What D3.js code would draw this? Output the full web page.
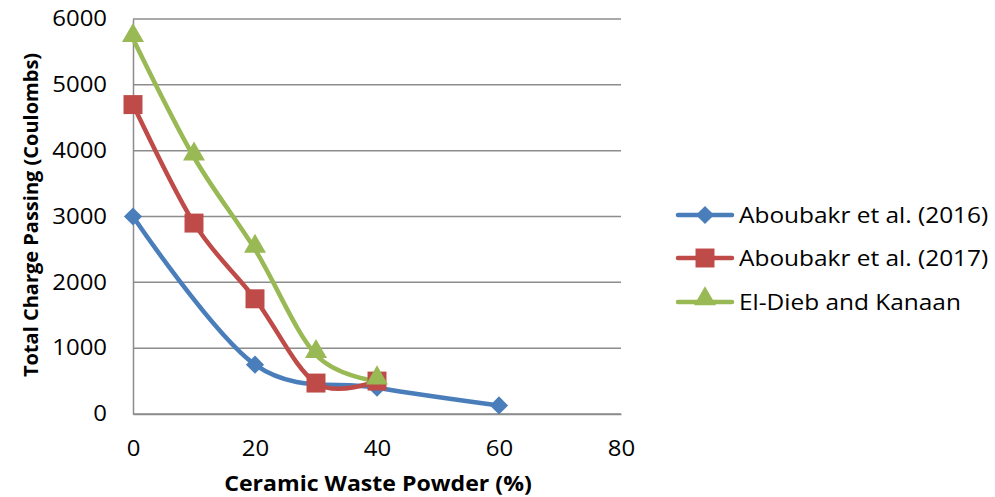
<!DOCTYPE html>
<html>
<head>
<meta charset="utf-8">
<script src="https://cdn.jsdelivr.net/npm/d3@7"></script>
<style>
  html, body { margin: 0; padding: 0; background: #fff; }
  svg { display: block; }
  text { font-family: "Open Sans", "DejaVu Sans", sans-serif; fill: #000; }
</style>
</head>
<body>
<svg id="chart" width="995" height="497"></svg>
<script>
// Chloride penetration data vs. ceramic waste powder replacement
const seriesNames = ["Aboubakr et al. (2016)", "Aboubakr et al. (2017)", "El-Dieb and Kanaan"];
const x2016 = [0, 20, 40, 60];
const y2016 = [3000, 750, 400, 130];
const x2017 = [0, 10, 20, 30, 40];
const y2017 = [4700, 2900, 1750, 470, 500];
const xDieb = [0, 10, 20, 30, 40];
const yDieb = [5700, 3900, 2500, 900, 500];
const xTicks = [0, 20, 40, 60, 80];
const yTicks = [0, 1000, 2000, 3000, 4000, 5000, 6000];
const colors = ["#4A7EBB", "#BE4B48", "#98B954"];
const markers = [d3.symbolDiamond2, d3.symbolSquare, d3.symbolTriangle];

const series = [
  { name: seriesNames[0], xs: x2016, ys: y2016 },
  { name: seriesNames[1], xs: x2017, ys: y2017 },
  { name: seriesNames[2], xs: xDieb, ys: yDieb }
].map((s, i) => ({
  ...s, color: colors[i], marker: markers[i],
  pts: s.xs.map((x, j) => [x, s.ys[j]])
}));

const svg = d3.select("#chart");
const plotLeft = 133, plotRight = 621, plotTop = 19, plotBottom = 414;

const x = d3.scaleLinear().domain([0, 80]).range([plotLeft, plotRight]);
const y = d3.scaleLinear().domain([0, 6000]).range([plotBottom, plotTop]);

// widen horizontal labels slightly (wide-set face)
function widen(sel, k) {
  sel.each(function () {
    const len = this.getComputedTextLength();
    d3.select(this).attr("textLength", len * k).attr("lengthAdjust", "spacingAndGlyphs");
  });
}

// horizontal gridlines
svg.append("g").selectAll("line").data(yTicks).join("line")
  .attr("x1", plotLeft).attr("x2", plotRight)
  .attr("y1", d => y(d)).attr("y2", d => y(d))
  .attr("stroke", "#8c8c8c").attr("stroke-width", 1.5);

// y axis
const yAxis = svg.append("g").attr("transform", `translate(${plotLeft},0)`)
  .call(d3.axisLeft(y).tickValues(yTicks).tickSize(0).tickPadding(26).tickFormat(d3.format("d")));
yAxis.select(".domain").attr("stroke", "#8c8c8c").attr("stroke-width", 1.5);
yAxis.selectAll("text").style("font-size", "21px").style("font-family", '"Open Sans", sans-serif').attr("fill", "#000");
widen(yAxis.selectAll("text"), 1.14);

// x axis
const xAxis = svg.append("g").attr("transform", `translate(0,${plotBottom})`)
  .call(d3.axisBottom(x).tickValues(xTicks).tickSize(0).tickPadding(27).tickFormat(d3.format("d")));
xAxis.select(".domain").attr("stroke", "#8c8c8c").attr("stroke-width", 1.5);
xAxis.selectAll("text").style("font-size", "21px").style("font-family", '"Open Sans", sans-serif').attr("fill", "#000");
widen(xAxis.selectAll("text"), 1.14);

// axis titles
const xTitle = svg.append("text")
  .attr("x", 378).attr("y", 491)
  .attr("text-anchor", "middle")
  .style("font-size", "21px").style("font-weight", "bold")
  .text("Ceramic Waste Powder (%)");
widen(xTitle, 1.1);
svg.append("text")
  .attr("transform", "translate(38,215) rotate(-90)")
  .attr("text-anchor", "middle")
  .style("font-size", "20px").style("font-weight", "bold")
  .text("Total Charge Passing (Coulombs)");

// smoothed lines
const line = d3.line()
  .x(d => x(d[0])).y(d => y(d[1]))
  .curve(d3.curveCardinal.tension(0));

const g = svg.append("g");
series.forEach(s => {
  g.append("path").datum(s.pts)
    .attr("d", line)
    .attr("fill", "none")
    .attr("stroke", s.color)
    .attr("stroke-width", 4.5)
    .attr("stroke-linejoin", "round")
    .attr("stroke-linecap", "round");
});

const markerSize = [210, 360, 210];
const markerDy = [0, 0, -3];
series.forEach((s, i) => {
  g.append("g").selectAll("path").data(s.pts).join("path")
    .attr("transform", d => `translate(${x(d[0])},${y(d[1]) + markerDy[i]})`)
    .attr("d", d3.symbol().type(s.marker).size(markerSize[i]))
    .attr("fill", s.color);
});

// legend
const legendY = [215, 258, 302];
const leg = svg.append("g");
series.forEach((s, i) => {
  const row = leg.append("g").attr("transform", `translate(0,${legendY[i]})`);
  row.append("line").attr("x1", 678).attr("x2", 732)
    .attr("stroke", s.color).attr("stroke-width", 4.5).attr("stroke-linecap", "round");
  row.append("path")
    .attr("transform", `translate(705,${markerDy[i]})`)
    .attr("d", d3.symbol().type(s.marker).size(markerSize[i]))
    .attr("fill", s.color);
  const t = row.append("text").attr("x", 739).attr("y", 8)
    .style("font-size", "22px")
    .text(s.name);
  widen(t, 1.11);
});
</script>
</body>
</html>
